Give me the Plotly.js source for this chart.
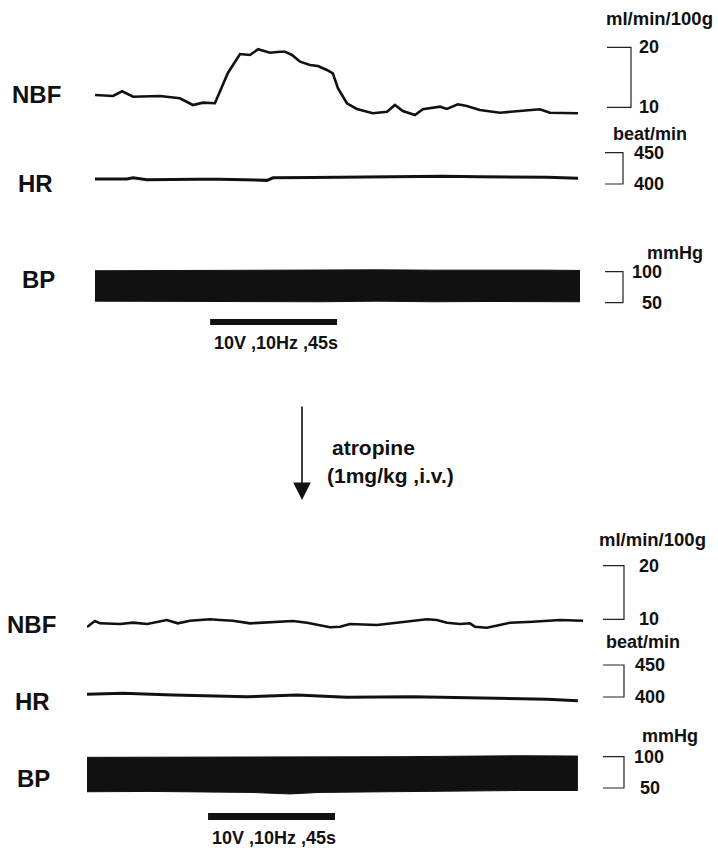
<!DOCTYPE html>
<html>
<head>
<meta charset="utf-8">
<script src="https://cdn.plot.ly/plotly-3.0.1.min.js"></script>
<style>html,body{margin:0;padding:0;background:#fff;}#chart{width:718px;height:850px;}</style>
</head>
<body>
<div id="chart"></div>
<script>
// ---------- DATA (time in s from start of each record) ----------
// Top record (before atropine)
const topNbfT = [0, 6.4, 9.6, 13.5, 23.0, 30.1, 34.7, 38.3, 42.5, 44.3, 47.1, 51.4, 54.9, 57.8, 62.0, 65.6, 67.3, 69.8, 72.7, 76.2, 79.0, 82.2, 84.3, 86.1, 89.3, 92.8, 98.5, 103.5, 106.3, 109.1, 113.4, 116.2, 122.3, 124.7, 128.6, 131.8, 136.4, 143.5, 149.5, 157.7, 161.2, 165.8, 171.2];
const topNbf  = [12.05, 11.88, 12.67, 11.77, 11.88, 11.5, 10.38, 10.77, 10.67, 12.6, 15.72, 18.88, 18.72, 19.67, 19.1, 19.27, 19.27, 18.72, 17.6, 17.05, 16.88, 16.22, 15.67, 13.17, 10.67, 9.72, 9.0, 9.27, 10.38, 9.38, 8.72, 9.67, 10.1, 9.72, 10.5, 10.22, 9.55, 9.1, 9.38, 9.67, 9.1, 9.0, 9.0];
const topHrT = [0, 11.3, 13.5, 18.4, 36.1, 44.3, 61.0, 63.1, 77.3, 95.0, 107.0, 123.3, 136.4, 160.2, 171.2];
const topHr  = [408, 408, 410, 406.8, 407.5, 407.5, 405.8, 409.8, 410.5, 411.5, 412.5, 412.5, 411.7, 410.7, 409];
const topBpT   = [0, 20, 40, 60, 80, 100, 120, 140, 160, 172];
const topBpSys = [101.5, 102, 102.5, 102, 102.5, 103, 102.5, 103, 102.5, 102];
const topBpDia = [52.5, 52, 51.5, 51, 51.5, 52.5, 51.5, 52, 51, 51.5];
const topStim = [40.8, 85.8];

// Bottom record (after atropine)
const botNbfT = [0, 2.8, 4.6, 11.7, 16.3, 21.3, 28.3, 32.2, 36.5, 43.6, 47.1, 51.7, 57.8, 65.9, 73.0, 78.0, 82.6, 86.1, 89.7, 93.2, 102.8, 110.9, 118.0, 120.5, 124.0, 127.6, 132.2, 135.7, 137.5, 141.7, 146.3, 149.9, 158.0, 167.6, 175.8];
const botNbf  = [8.56, 9.68, 9.25, 9.12, 9.37, 9.12, 9.87, 9.25, 9.74, 10.0, 9.87, 9.74, 9.25, 9.55, 9.68, 9.37, 8.94, 8.51, 8.62, 9.12, 8.94, 9.37, 9.74, 10.0, 9.87, 9.37, 9.12, 9.25, 8.62, 8.43, 8.94, 9.37, 9.55, 9.87, 9.74];
const botHrT = [0, 12.8, 30.5, 56.7, 74.4, 92.1, 115.5, 139.3, 163.0, 174.0];
const botHr  = [404.2, 405.7, 403.1, 400.5, 403.1, 399.5, 400.5, 398.9, 396.4, 394.2];
const botBpT   = [0, 22.3, 57.8, 71.9, 82.6, 110.9, 139.3, 153.4, 174.0];
const botBpSys = [99, 99, 99.5, 99.5, 100, 100, 101, 101.5, 101];
const botBpDia = [44, 44.5, 43, 40.5, 43, 44.5, 45, 46, 46];
const botStim = [42.9, 87.9];

// ---------- LAYOUT HELPERS ----------
const W = 718, H = 850;
const px = p => p / W;
const py = p => 1 - p / H;
function yAxis(v1, p1, v2, p2, pTop, pBot, anchor) {
  const k = (v2 - v1) / (p2 - p1);
  const v = p => v1 + (p - p1) * k;
  return {domain: [py(pBot), py(pTop)], range: [v(pBot), v(pTop)], visible: false, anchor: anchor, fixedrange: true};
}
const INK = '#111';
const FONT = 'Liberation Sans, Arial, Helvetica, sans-serif';

function line(x, y, xa, ya, w) {
  return {x: x, y: y, xaxis: xa, yaxis: ya, type: 'scatter', mode: 'lines',
          line: {color: INK, width: w, shape: 'linear'}, hoverinfo: 'skip', showlegend: false};
}
function band(x, hi, lo, xa, ya) {
  return [
    {x: x, y: lo, xaxis: xa, yaxis: ya, type: 'scatter', mode: 'lines', line: {color: INK, width: 1}, hoverinfo: 'skip', showlegend: false},
    {x: x, y: hi, xaxis: xa, yaxis: ya, type: 'scatter', mode: 'lines', line: {color: INK, width: 1}, fill: 'tonexty', fillcolor: INK, hoverinfo: 'skip', showlegend: false}
  ];
}

const data = [
  line(topNbfT, topNbf, 'x', 'y', 2.6),
  line(topHrT, topHr, 'x', 'y2', 3),
  ...band(topBpT, topBpSys, topBpDia, 'x', 'y3'),
  line(botNbfT, botNbf, 'x2', 'y4', 2.6),
  line(botHrT, botHr, 'x2', 'y5', 3),
  ...band(botBpT, botBpSys, botBpDia, 'x2', 'y6')
];

function bracket(yref, x1, x2, vTop, vBot) {
  return {type: 'path', xref: 'paper', yref: yref,
          path: `M ${px(x1)},${vTop} L ${px(x2)},${vTop} L ${px(x2)},${vBot} L ${px(x1)},${vBot}`,
          line: {color: '#222', width: 1.2}};
}
function stimBar(xref, t, pTop, pBot) {
  return {type: 'rect', xref: xref, yref: 'paper', x0: t[0], x1: t[1], y0: py(pBot), y1: py(pTop),
          fillcolor: INK, line: {width: 0}};
}
function txt(s, x, y, size, anchor, yanchor) {
  return {text: '<b>' + s + '</b>', xref: 'paper', yref: 'paper', x: px(x), y: py(y),
          xanchor: anchor || 'left', yanchor: yanchor || 'middle', showarrow: false, borderpad: 0,
          font: {family: FONT, size: size, color: INK}};
}
function valTxt(s, yref, v, x, size) {
  return {text: '<b>' + s + '</b>', xref: 'paper', yref: yref, x: px(x), y: v,
          xanchor: 'left', yanchor: 'middle', showarrow: false, borderpad: 0,
          font: {family: FONT, size: size, color: INK}};
}

const layout = {
  width: W, height: H,
  margin: {l: 0, r: 0, t: 0, b: 0},
  paper_bgcolor: '#fff', plot_bgcolor: 'rgba(0,0,0,0)',
  showlegend: false,
  xaxis:  {domain: [px(95), px(580)], range: [0, 171.9], visible: false, anchor: 'y3', fixedrange: true},
  xaxis2: {domain: [px(87), px(583)], range: [0, 175.8], visible: false, anchor: 'y6', fixedrange: true},
  yaxis:  yAxis(20, 47.3, 10, 107.3, 30, 125, 'x'),
  yaxis2: yAxis(450, 152.7, 400, 184, 145, 205, 'x'),
  yaxis3: yAxis(100, 271.7, 50, 302.7, 255, 312, 'x'),
  yaxis4: yAxis(20, 565.7, 10, 619.3, 550, 640, 'x2'),
  yaxis5: yAxis(450, 665, 400, 697, 655, 715, 'x2'),
  yaxis6: yAxis(100, 756.7, 50, 788, 745, 802, 'x2'),
  shapes: [
    bracket('y', 607, 631, 20, 10),
    bracket('y2', 605, 623, 450, 400),
    bracket('y3', 605, 623, 100, 50),
    bracket('y4', 603, 624, 20, 10),
    bracket('y5', 603, 624, 450, 400),
    bracket('y6', 603, 624, 100, 50),
    stimBar('x', topStim, 319, 325),
    stimBar('x2', botStim, 813, 820)
  ],
  annotations: [
    // left labels
    txt('NBF', 11, 94, 24), txt('HR', 17, 184, 24), txt('BP', 21, 279, 24),
    txt('NBF', 6, 624.5, 24), txt('HR', 14, 701.5, 24), txt('BP', 16, 778, 24),
    // top scale labels
    txt('ml/min/100g', 605, 19, 18.5),
    valTxt('20', 'y', 20, 638, 18), valTxt('10', 'y', 10, 638, 18),
    txt('beat/min', 612, 134, 18),
    valTxt('450', 'y2', 450, 633, 18), valTxt('400', 'y2', 400, 633, 18),
    txt('mmHg', 646, 252.5, 18),
    valTxt('100', 'y3', 100, 631, 18), valTxt('50', 'y3', 50, 641, 18),
    // bottom scale labels
    txt('ml/min/100g', 598, 539.5, 18.5),
    valTxt('20', 'y4', 20, 638, 18), valTxt('10', 'y4', 10, 638, 18),
    txt('beat/min', 605, 642, 18),
    valTxt('450', 'y5', 450, 634, 18), valTxt('400', 'y5', 400, 634, 18),
    txt('mmHg', 641, 736, 18),
    valTxt('100', 'y6', 100, 633, 18), valTxt('50', 'y6', 50, 639, 18),
    // stimulus labels
    txt('10V ,10Hz ,45s', 276, 342.5, 18, 'center'),
    txt('10V ,10Hz ,45s', 274, 849, 18, 'center', 'bottom'),
    // atropine
    txt('atropine', 331, 447, 21),
    txt('(1mg/kg ,i.v.)', 326, 475, 21),
    {x: px(302), y: py(500), xref: 'paper', yref: 'paper', text: '', showarrow: true,
     ax: 0, ay: -95, arrowhead: 2, arrowsize: 2.2, arrowwidth: 1.6, arrowcolor: INK}
  ]
};

Plotly.newPlot('chart', data, layout, {staticPlot: true, displayModeBar: false});
</script>
</body>
</html>
